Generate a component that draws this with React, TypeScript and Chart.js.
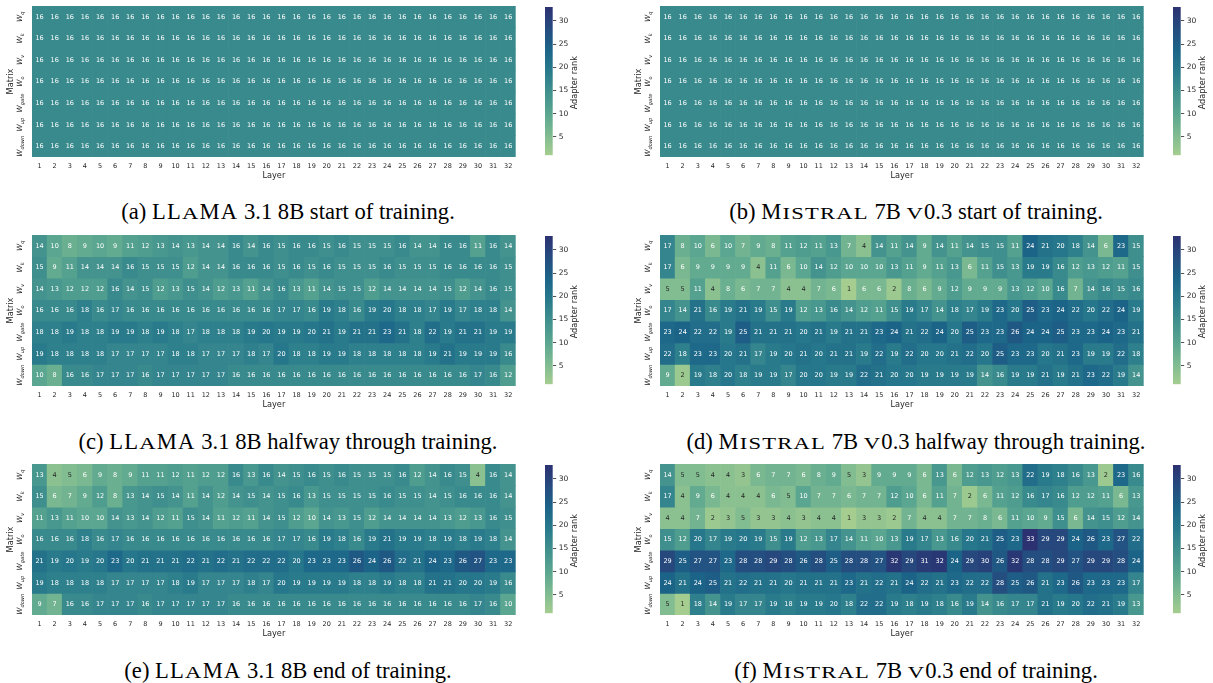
import React, { useEffect, useRef } from 'react';
import { Chart, registerables } from 'chart.js';

Chart.register(...registerables);

// ---------------- data ----------------
const LAYER_LABELS = ['1', '2', '3', '4', '5', '6', '7', '8', '9', '10', '11', '12', '13', '14', '15', '16',
  '17', '18', '19', '20', '21', '22', '23', '24', '25', '26', '27', '28', '29', '30', '31', '32'];
const MATRIX_SUBS = ['q', 'k', 'v', 'o', 'gate', 'up', 'down'];
const COLORBAR_TICKS = [5, 10, 15, 20, 25, 30];
const VMIN = 1;
const VMAX = 33;

const llamaStart = [
  [16, 16, 16, 16, 16, 16, 16, 16, 16, 16, 16, 16, 16, 16, 16, 16, 16, 16, 16, 16, 16, 16, 16, 16, 16, 16, 16, 16, 16, 16, 16, 16],
  [16, 16, 16, 16, 16, 16, 16, 16, 16, 16, 16, 16, 16, 16, 16, 16, 16, 16, 16, 16, 16, 16, 16, 16, 16, 16, 16, 16, 16, 16, 16, 16],
  [16, 16, 16, 16, 16, 16, 16, 16, 16, 16, 16, 16, 16, 16, 16, 16, 16, 16, 16, 16, 16, 16, 16, 16, 16, 16, 16, 16, 16, 16, 16, 16],
  [16, 16, 16, 16, 16, 16, 16, 16, 16, 16, 16, 16, 16, 16, 16, 16, 16, 16, 16, 16, 16, 16, 16, 16, 16, 16, 16, 16, 16, 16, 16, 16],
  [16, 16, 16, 16, 16, 16, 16, 16, 16, 16, 16, 16, 16, 16, 16, 16, 16, 16, 16, 16, 16, 16, 16, 16, 16, 16, 16, 16, 16, 16, 16, 16],
  [16, 16, 16, 16, 16, 16, 16, 16, 16, 16, 16, 16, 16, 16, 16, 16, 16, 16, 16, 16, 16, 16, 16, 16, 16, 16, 16, 16, 16, 16, 16, 16],
  [16, 16, 16, 16, 16, 16, 16, 16, 16, 16, 16, 16, 16, 16, 16, 16, 16, 16, 16, 16, 16, 16, 16, 16, 16, 16, 16, 16, 16, 16, 16, 16],
];
const mistralStart = [
  [16, 16, 16, 16, 16, 16, 16, 16, 16, 16, 16, 16, 16, 16, 16, 16, 16, 16, 16, 16, 16, 16, 16, 16, 16, 16, 16, 16, 16, 16, 16, 16],
  [16, 16, 16, 16, 16, 16, 16, 16, 16, 16, 16, 16, 16, 16, 16, 16, 16, 16, 16, 16, 16, 16, 16, 16, 16, 16, 16, 16, 16, 16, 16, 16],
  [16, 16, 16, 16, 16, 16, 16, 16, 16, 16, 16, 16, 16, 16, 16, 16, 16, 16, 16, 16, 16, 16, 16, 16, 16, 16, 16, 16, 16, 16, 16, 16],
  [16, 16, 16, 16, 16, 16, 16, 16, 16, 16, 16, 16, 16, 16, 16, 16, 16, 16, 16, 16, 16, 16, 16, 16, 16, 16, 16, 16, 16, 16, 16, 16],
  [16, 16, 16, 16, 16, 16, 16, 16, 16, 16, 16, 16, 16, 16, 16, 16, 16, 16, 16, 16, 16, 16, 16, 16, 16, 16, 16, 16, 16, 16, 16, 16],
  [16, 16, 16, 16, 16, 16, 16, 16, 16, 16, 16, 16, 16, 16, 16, 16, 16, 16, 16, 16, 16, 16, 16, 16, 16, 16, 16, 16, 16, 16, 16, 16],
  [16, 16, 16, 16, 16, 16, 16, 16, 16, 16, 16, 16, 16, 16, 16, 16, 16, 16, 16, 16, 16, 16, 16, 16, 16, 16, 16, 16, 16, 16, 16, 16],
];
const llamaHalf = [
  [14, 10, 8, 9, 10, 9, 11, 12, 13, 14, 13, 14, 14, 16, 14, 16, 15, 16, 16, 15, 16, 15, 15, 15, 16, 14, 14, 16, 16, 11, 16, 14],
  [15, 9, 11, 14, 14, 14, 16, 15, 15, 15, 12, 14, 14, 16, 16, 16, 15, 16, 15, 16, 15, 15, 15, 16, 15, 15, 15, 16, 16, 16, 16, 15],
  [14, 13, 12, 12, 12, 16, 14, 15, 12, 13, 15, 14, 12, 13, 11, 14, 16, 13, 11, 14, 15, 15, 12, 14, 14, 14, 14, 15, 12, 14, 16, 15],
  [16, 16, 16, 18, 16, 17, 16, 16, 16, 16, 16, 16, 16, 16, 16, 16, 17, 17, 16, 19, 18, 16, 19, 20, 18, 18, 17, 19, 17, 18, 18, 14],
  [18, 18, 19, 18, 18, 19, 19, 18, 19, 18, 17, 18, 18, 18, 19, 20, 19, 19, 20, 21, 19, 21, 21, 23, 21, 18, 22, 19, 21, 21, 19, 19],
  [19, 18, 18, 18, 18, 17, 17, 17, 17, 18, 18, 17, 17, 17, 18, 17, 20, 18, 18, 19, 19, 18, 18, 18, 18, 18, 19, 21, 19, 19, 19, 16],
  [10, 8, 16, 16, 17, 17, 17, 16, 17, 17, 17, 17, 17, 16, 16, 16, 16, 16, 16, 16, 16, 16, 16, 16, 16, 16, 16, 16, 16, 17, 16, 12],
];
const mistralHalf = [
  [17, 8, 10, 6, 10, 7, 9, 8, 11, 12, 11, 13, 7, 4, 14, 11, 14, 9, 14, 11, 14, 15, 15, 11, 24, 21, 20, 18, 14, 6, 23, 15],
  [17, 6, 9, 9, 9, 9, 4, 11, 6, 10, 14, 12, 10, 10, 10, 13, 11, 9, 11, 13, 6, 11, 15, 13, 19, 19, 16, 12, 13, 12, 11, 15],
  [5, 5, 11, 4, 8, 6, 7, 7, 4, 4, 7, 6, 1, 6, 6, 2, 8, 6, 9, 12, 9, 9, 9, 13, 12, 10, 16, 7, 14, 16, 15, 16],
  [17, 14, 21, 16, 19, 21, 19, 15, 19, 12, 13, 16, 14, 12, 11, 15, 19, 17, 14, 18, 17, 19, 23, 20, 25, 23, 24, 22, 20, 22, 24, 19],
  [23, 24, 22, 22, 19, 25, 21, 21, 21, 20, 21, 19, 21, 21, 23, 24, 21, 22, 24, 20, 25, 23, 23, 26, 24, 24, 25, 23, 23, 24, 23, 21],
  [22, 18, 23, 23, 20, 21, 17, 19, 20, 21, 20, 21, 21, 19, 22, 19, 22, 20, 20, 21, 22, 20, 25, 23, 23, 20, 21, 23, 19, 19, 22, 18],
  [9, 2, 19, 18, 20, 18, 19, 19, 17, 20, 20, 19, 19, 22, 21, 20, 20, 19, 19, 19, 19, 14, 16, 19, 19, 21, 19, 21, 23, 22, 19, 14],
];
const llamaEnd = [
  [13, 4, 5, 6, 9, 8, 9, 11, 11, 12, 11, 12, 12, 16, 13, 16, 14, 15, 16, 15, 16, 15, 15, 15, 16, 12, 14, 16, 15, 4, 16, 14],
  [15, 6, 7, 9, 12, 8, 13, 14, 15, 14, 11, 14, 12, 14, 15, 14, 15, 16, 13, 15, 15, 15, 15, 16, 15, 15, 14, 15, 16, 16, 16, 14],
  [11, 13, 11, 10, 10, 14, 13, 14, 12, 11, 15, 14, 11, 12, 11, 14, 15, 12, 10, 14, 13, 15, 12, 14, 14, 14, 14, 13, 12, 13, 16, 15],
  [16, 16, 16, 18, 16, 17, 16, 16, 16, 16, 16, 16, 16, 16, 16, 16, 17, 17, 16, 19, 18, 16, 19, 21, 19, 19, 18, 19, 18, 19, 18, 14],
  [21, 19, 20, 19, 20, 23, 20, 21, 21, 21, 22, 21, 22, 21, 22, 22, 22, 20, 23, 23, 23, 26, 24, 26, 22, 21, 24, 23, 26, 27, 23, 23],
  [19, 18, 18, 18, 18, 17, 17, 17, 17, 18, 19, 17, 17, 17, 18, 17, 20, 19, 19, 19, 19, 18, 18, 19, 18, 18, 21, 21, 20, 20, 19, 16],
  [9, 7, 16, 16, 17, 17, 17, 16, 17, 17, 17, 17, 17, 16, 16, 16, 16, 16, 16, 16, 16, 16, 16, 16, 16, 16, 16, 16, 16, 17, 16, 10],
];
const mistralEnd = [
  [14, 5, 5, 4, 4, 3, 6, 7, 7, 6, 8, 9, 5, 3, 9, 9, 9, 6, 13, 6, 12, 13, 12, 13, 22, 19, 18, 16, 13, 2, 23, 16],
  [17, 4, 9, 6, 4, 4, 4, 6, 5, 10, 7, 7, 6, 7, 7, 12, 10, 6, 11, 7, 2, 6, 11, 12, 16, 17, 16, 12, 12, 11, 6, 13],
  [4, 4, 7, 2, 3, 5, 3, 3, 4, 3, 4, 4, 1, 3, 3, 2, 7, 4, 4, 7, 7, 8, 6, 11, 10, 9, 15, 6, 14, 15, 12, 14],
  [15, 12, 20, 17, 19, 20, 19, 15, 19, 12, 13, 17, 14, 11, 10, 13, 19, 17, 13, 16, 20, 21, 25, 23, 33, 29, 29, 24, 26, 23, 27, 22],
  [29, 25, 27, 27, 23, 28, 28, 29, 28, 26, 28, 25, 28, 28, 27, 32, 29, 31, 32, 24, 29, 30, 26, 32, 28, 28, 29, 27, 29, 29, 28, 24],
  [24, 21, 24, 25, 21, 22, 21, 21, 20, 21, 21, 21, 23, 21, 22, 21, 24, 22, 21, 23, 22, 22, 28, 25, 26, 21, 23, 26, 23, 23, 23, 17],
  [5, 1, 18, 14, 19, 17, 17, 19, 18, 19, 19, 20, 18, 22, 22, 19, 18, 19, 18, 16, 19, 14, 16, 17, 17, 21, 19, 20, 22, 21, 19, 13],
];

// ---------------- styling ----------------
const FONT = '"DejaVu Sans", sans-serif';
const TEXT = '#262626';
const ANNOT_SIZE = 6.5;
const TICK_SIZE = 6.5;
const LABEL_SIZE = 8.2;
const CB_TICK_SIZE = 7.5;

// seaborn "crest" colormap approximation
const CREST_STOPS: number[][] = [
  [0.0, 165, 205, 144],
  [0.143, 125, 186, 145],
  [0.286, 89, 165, 144],
  [0.429, 64, 144, 142],
  [0.571, 40, 122, 140],
  [0.714, 28, 100, 136],
  [0.857, 37, 75, 127],
  [1.0, 44, 49, 114],
];

function crest(v: number): number[] {
  const t = Math.max(0, Math.min(1, (v - VMIN) / (VMAX - VMIN)));
  for (let i = 1; i < CREST_STOPS.length; i++) {
    const a = CREST_STOPS[i - 1];
    const b = CREST_STOPS[i];
    if (t <= b[0]) {
      const f = (t - a[0]) / (b[0] - a[0]);
      return [a[1] + (b[1] - a[1]) * f, a[2] + (b[2] - a[2]) * f, a[3] + (b[3] - a[3]) * f];
    }
  }
  const l = CREST_STOPS[CREST_STOPS.length - 1];
  return [l[1], l[2], l[3]];
}
function rgb(c: number[]) {
  return `rgb(${Math.round(c[0])},${Math.round(c[1])},${Math.round(c[2])})`;
}
function luminance(c: number[]) {
  const lin = (x: number) => {
    const s = x / 255;
    return s <= 0.03928 ? s / 12.92 : Math.pow((s + 0.055) / 1.055, 2.4);
  };
  return 0.2126 * lin(c[0]) + 0.7152 * lin(c[1]) + 0.0722 * lin(c[2]);
}

// ---------------- plugins ----------------
const annotPlugin = {
  id: 'annot',
  afterDatasetsDraw(chart: any) {
    const { ctx, scales } = chart;
    const xs = scales.x;
    const ys = scales.y;
    ctx.save();
    ctx.font = `${ANNOT_SIZE}px ${FONT}`;
    ctx.textAlign = 'center';
    ctx.textBaseline = 'middle';
    chart.data.datasets.forEach((ds: any, i: number) => {
      ds.values.forEach((v: number, j: number) => {
        ctx.fillStyle = luminance(crest(v)) > 0.408 ? TEXT : '#ffffff';
        ctx.fillText(String(v), xs.getPixelForValue(j), ys.getPixelForValue(i) + 0.3);
      });
    });
    ctx.restore();
  },
};

const rowLabelPlugin = {
  id: 'rowLabels',
  afterDraw(chart: any) {
    const { ctx, scales } = chart;
    const ys = scales.y;
    const mainFont = `italic 7.3px ${FONT}`;
    const subFont = `italic 5.1px ${FONT}`;
    MATRIX_SUBS.forEach((sub, i) => {
      const cy = ys.getPixelForValue(i);
      ctx.save();
      ctx.font = mainFont;
      const wW = ctx.measureText('W').width;
      ctx.font = subFont;
      const wS = ctx.measureText(sub).width;
      const total = wW + wS;
      ctx.translate(22, cy);
      ctx.rotate(-Math.PI / 2);
      ctx.fillStyle = TEXT;
      ctx.textAlign = 'left';
      ctx.textBaseline = 'alphabetic';
      ctx.font = mainFont;
      ctx.fillText('W', -total / 2, 0);
      ctx.font = subFont;
      ctx.fillText(sub, -total / 2 + wW, 1.8);
      ctx.restore();
    });
  },
};

const cbTitlePlugin = {
  id: 'cbTitle',
  afterDraw(chart: any) {
    const { ctx, chartArea } = chart;
    ctx.save();
    ctx.translate(45, (chartArea.top + chartArea.bottom) / 2 + 1.5);
    ctx.rotate(-Math.PI / 2);
    ctx.font = `${LABEL_SIZE}px ${FONT}`;
    ctx.fillStyle = TEXT;
    ctx.textAlign = 'center';
    ctx.textBaseline = 'middle';
    ctx.fillText('Adapter rank', 0, 0);
    ctx.restore();
  },
};

// ---------------- components ----------------
function Heatmap({ grid, left, top }: { grid: number[][]; left: number; top: number }) {
  const ref = useRef<HTMLCanvasElement>(null);
  useEffect(() => {
    const canvas = ref.current;
    if (!canvas) return;
    const datasets = grid.map((row, i) => ({
      label: MATRIX_SUBS[i],
      data: row.map(() => [i - 0.5, i + 0.5]),
      values: row,
      backgroundColor: row.map((v) => rgb(crest(v))),
      borderWidth: 0,
      grouped: false,
      barPercentage: 1,
      categoryPercentage: 1,
    }));
    const chart = new Chart(canvas, {
      type: 'bar',
      data: { labels: LAYER_LABELS, datasets: datasets as any },
      options: {
        animation: false,
        responsive: false,
        events: [],
        layout: { padding: { left: 0, top: 6, right: 14.3, bottom: 0 } },
        plugins: { legend: { display: false }, tooltip: { enabled: false } },
        scales: {
          x: {
            type: 'category',
            grid: { display: false, drawTicks: false },
            border: { display: false },
            ticks: {
              font: { family: FONT, size: TICK_SIZE },
              color: TEXT,
              padding: 5.1,
              maxRotation: 0,
              minRotation: 0,
              autoSkip: false,
            },
            title: {
              display: true,
              text: 'Layer',
              font: { family: FONT, size: LABEL_SIZE },
              color: TEXT,
              padding: { top: 0, bottom: 4.1 },
            },
            afterFit: (s: any) => {
              s.height = 28;
            },
          },
          y: {
            type: 'linear',
            min: -0.5,
            max: 6.5,
            reverse: true,
            grid: { display: false, drawTicks: false },
            border: { display: false },
            ticks: { display: false },
            title: {
              display: true,
              text: 'Matrix',
              font: { family: FONT, size: LABEL_SIZE },
              color: TEXT,
              padding: { top: 5.6, bottom: 0 },
            },
            afterFit: (s: any) => {
              s.width = 32;
            },
          },
        },
      } as any,
      plugins: [annotPlugin, rowLabelPlugin],
    });
    return () => chart.destroy();
  }, [grid]);
  return <canvas ref={ref} width={530} height={185} style={{ position: 'absolute', left, top }} />;
}

function Colorbar({ left, top }: { left: number; top: number }) {
  const ref = useRef<HTMLCanvasElement>(null);
  useEffect(() => {
    const canvas = ref.current;
    if (!canvas) return;
    const chart = new Chart(canvas, {
      type: 'bar',
      data: {
        labels: [''],
        datasets: [
          {
            data: [[VMIN, VMAX]] as any,
            backgroundColor: (c: any) => {
              const ch = c.chart;
              const ys = ch.scales && ch.scales.y;
              if (!ys || !ch.chartArea) return undefined;
              const y0 = ys.getPixelForValue(VMIN);
              const y1 = ys.getPixelForValue(VMAX);
              if (!isFinite(y0) || !isFinite(y1)) return undefined;
              const g = ch.ctx.createLinearGradient(0, y0, 0, y1);
              CREST_STOPS.forEach((s) => g.addColorStop(s[0], rgb([s[1], s[2], s[3]])));
              return g;
            },
            borderWidth: 0,
            barPercentage: 1,
            categoryPercentage: 1,
          },
        ],
      },
      options: {
        animation: false,
        responsive: false,
        events: [],
        layout: { padding: { left: 15, top: 5, right: 0, bottom: 29.7 } },
        plugins: { legend: { display: false }, tooltip: { enabled: false } },
        scales: {
          x: { display: false },
          y: {
            position: 'right',
            min: VMIN,
            max: VMAX,
            afterBuildTicks: (s: any) => {
              s.ticks = COLORBAR_TICKS.map((v) => ({ value: v }));
            },
            grid: {
              display: true,
              drawOnChartArea: false,
              drawTicks: true,
              tickLength: 3.5,
              color: TEXT,
              lineWidth: 0.8,
            },
            border: { display: false },
            ticks: { font: { family: FONT, size: CB_TICK_SIZE }, color: TEXT, padding: 2.5 },
            afterFit: (s: any) => {
              s.width = 70 - 22.7;
            },
          },
        },
      } as any,
      plugins: [cbTitlePlugin],
    });
    return () => chart.destroy();
  }, []);
  return <canvas ref={ref} width={70} height={185} style={{ position: 'absolute', left, top }} />;
}

type Seg = { t: string; sc?: boolean };

const PANELS: { grid: number[][]; ox: number; oy: number; cx: number; base: number; caption: Seg[] }[] = [
  { grid: llamaStart, ox: 0, oy: 0, cx: 288, base: 220, caption: [{ t: '(a) ' }, { t: 'LLaMA', sc: true }, { t: ' 3.1 8B start of training.' }] },
  { grid: mistralStart, ox: 628, oy: 0, cx: 916, base: 220, caption: [{ t: '(b) ' }, { t: 'Mistral', sc: true }, { t: ' 7B ' }, { t: 'v0.3', sc: true }, { t: ' start of training.' }] },
  { grid: llamaHalf, ox: 0, oy: 229, cx: 288, base: 449.5, caption: [{ t: '(c) ' }, { t: 'LLaMA', sc: true }, { t: ' 3.1 8B halfway through training.' }] },
  { grid: mistralHalf, ox: 628, oy: 229, cx: 916, base: 449.5, caption: [{ t: '(d) ' }, { t: 'Mistral', sc: true }, { t: ' 7B ' }, { t: 'v0.3', sc: true }, { t: ' halfway through training.' }] },
  { grid: llamaEnd, ox: 0, oy: 458, cx: 288, base: 679, caption: [{ t: '(e) ' }, { t: 'LLaMA', sc: true }, { t: ' 3.1 8B end of training.' }] },
  { grid: mistralEnd, ox: 628, oy: 458, cx: 916, base: 679, caption: [{ t: '(f) ' }, { t: 'Mistral', sc: true }, { t: ' 7B ' }, { t: 'v0.3', sc: true }, { t: ' end of training.' }] },
];

const CAP_SIZE = 22.6;
const CAP_BASELINE = 18.93; // px from line top to baseline for Liberation Serif with line-height = font size
const SC_HEIGHT = 0.74; // small-cap height relative to capitals
const SC_SPACING = 1.2;

function renderSeg(s: Seg, key: number) {
  if (!s.sc) return <span key={key}>{s.t}</span>;
  return (
    <span key={key}>
      {Array.from(s.t).map((ch, i) => {
        const isLetter = /[A-Za-z]/.test(ch);
        const isLower = ch !== ch.toUpperCase();
        const style: any = {};
        if (isLetter) style.letterSpacing = `${SC_SPACING}px`;
        if (isLower) {
          style.display = 'inline-block';
          style.transform = `scaleY(${SC_HEIGHT})`;
          style.transformOrigin = `50% ${CAP_BASELINE}px`;
        }
        return (
          <span key={i} style={style}>
            {ch.toUpperCase()}
          </span>
        );
      })}
    </span>
  );
}

export default function App() {
  return (
    <div
      style={{
        position: 'absolute',
        left: 0,
        top: 0,
        width: 1213,
        height: 683,
        background: '#ffffff',
        overflow: 'hidden',
      }}
    >
      {PANELS.map((p, k) => (
        <React.Fragment key={k}>
          <Heatmap grid={p.grid} left={p.ox} top={p.oy} />
          <Colorbar left={p.ox + 530} top={p.oy} />
          <div
            style={{
              position: 'absolute',
              left: p.cx - 300,
              width: 600,
              top: p.base - CAP_BASELINE,
              textAlign: 'center',
              fontFamily: '"Liberation Serif", "Times New Roman", serif',
              fontSize: CAP_SIZE,
              lineHeight: `${CAP_SIZE}px`,
              color: '#000',
              whiteSpace: 'nowrap',
            }}
          >
            {p.caption.map((s, i) => renderSeg(s, i))}
          </div>
        </React.Fragment>
      ))}
    </div>
  );
}
